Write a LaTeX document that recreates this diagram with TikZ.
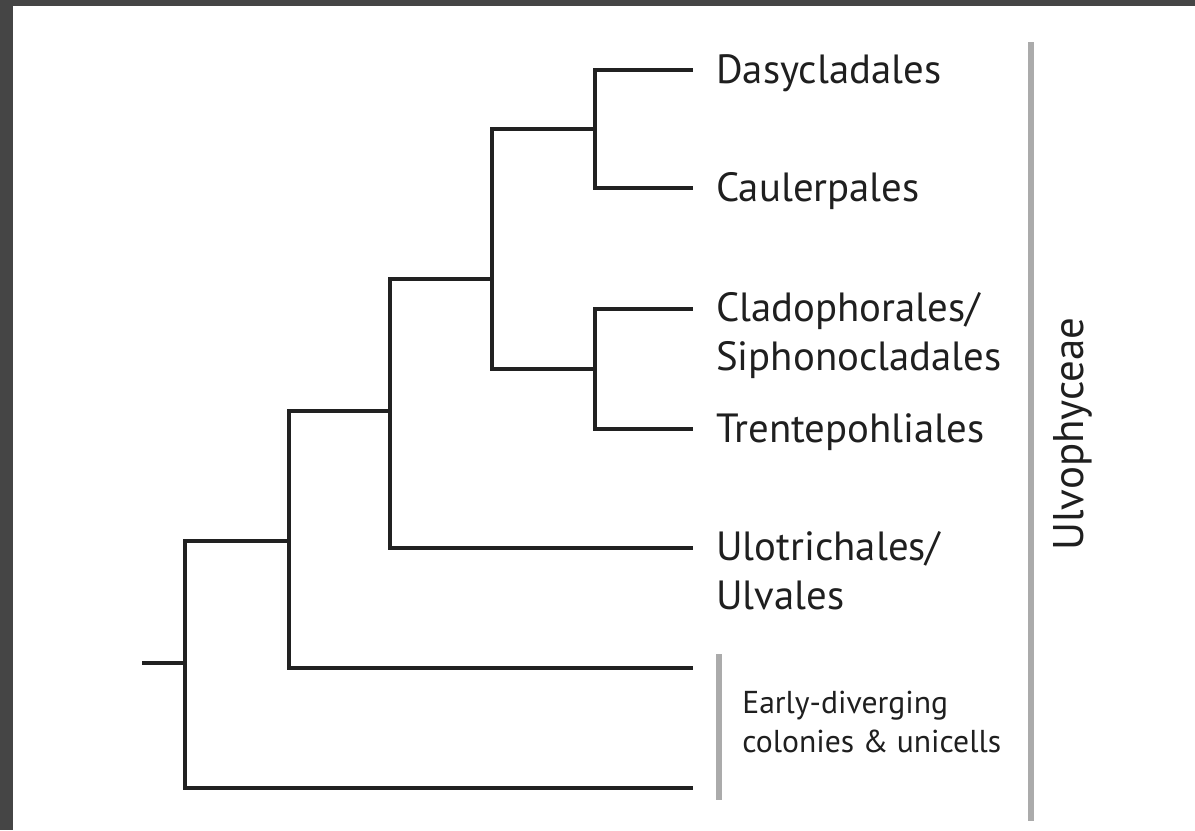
\documentclass[tikz,border=0pt]{standalone}
\usepackage{fontspec}
\setmainfont{PT Sans}
\usetikzlibrary{positioning}

\tikzset{
  branch/.style={line width=2.2pt, draw=black!87, line join=miter},
  taxon/.style={anchor=base west, inner sep=0pt, align=left,
    font=\fontsize{29}{34.8}\selectfont, text=black!88},
  grade/.style={anchor=base west, inner sep=0pt, align=left,
    font=\fontsize{22.5}{27.7}\selectfont, text=black!88},
  cladebar/.style={line width=4.5pt, draw=black!33},
}

\begin{document}
\begin{tikzpicture}[x=0.025cm, y=-0.025cm]
  % Frame
  \fill[black!73] (0,0) rectangle (1195,830);
  \fill[white] (13,6) rectangle (1195,830);

  % Internal nodes
  \coordinate (root) at (142,663);
  \coordinate (nA) at (185,663);
  \coordinate (nB) at (289,541);
  \coordinate (nC) at (390,411);
  \coordinate (nD) at (492,279);
  \coordinate (nE) at (595,129);
  \coordinate (nF) at (595,369);

  % Tips
  \coordinate (tDas) at (693,70);
  \coordinate (tCau) at (693,188);
  \coordinate (tCla) at (693,309);
  \coordinate (tTre) at (693,429);
  \coordinate (tUlo) at (693,548);
  \coordinate (tEa1) at (693,668);
  \coordinate (tEa2) at (693,788);

  % Tree
  \draw[branch] (root) -- (nA);
  \draw[branch] (nA) |- (nB);
  \draw[branch] (nA) |- (tEa2);
  \draw[branch] (nB) |- (nC);
  \draw[branch] (nB) |- (tEa1);
  \draw[branch] (nC) |- (nD);
  \draw[branch] (nC) |- (tUlo);
  \draw[branch] (nD) |- (nE);
  \draw[branch] (nD) |- (nF);
  \draw[branch] (nE) |- (tDas);
  \draw[branch] (nE) |- (tCau);
  \draw[branch] (nF) |- (tCla);
  \draw[branch] (nF) |- (tTre);

  % Labels (base = last line)
  \node[taxon] (das) at (716,83) {Dasycladales};
  \node[taxon] (cau) at (716,201) {Caulerpales};
  \node[taxon] (cla) at (716,370) {Cladophorales/\\Siphonocladales};
  \node[taxon] (tre) at (716,442) {Trentepohliales};
  \node[taxon] (ulo) at (716,609) {Ulotrichales/\\Ulvales};
  \node[grade] (early) at (742,752) {Early-diverging\\colonies \& unicells};

  % Bars
  \coordinate (eTop) at (719,654);
  \coordinate (eBot) at (719,800);
  \draw[cladebar] (eTop) -- (eBot);
  \coordinate (uTop) at (1031,42);
  \coordinate (uBot) at (1031,821);
  \draw[cladebar] (uTop) -- (uBot);
  \node[rotate=90, anchor=base, inner sep=0pt, font=\fontsize{30.5}{36}\selectfont,
    text=black!88] (ulvo) at (1083,434) {Ulvophyceae};
\end{tikzpicture}
\end{document}
